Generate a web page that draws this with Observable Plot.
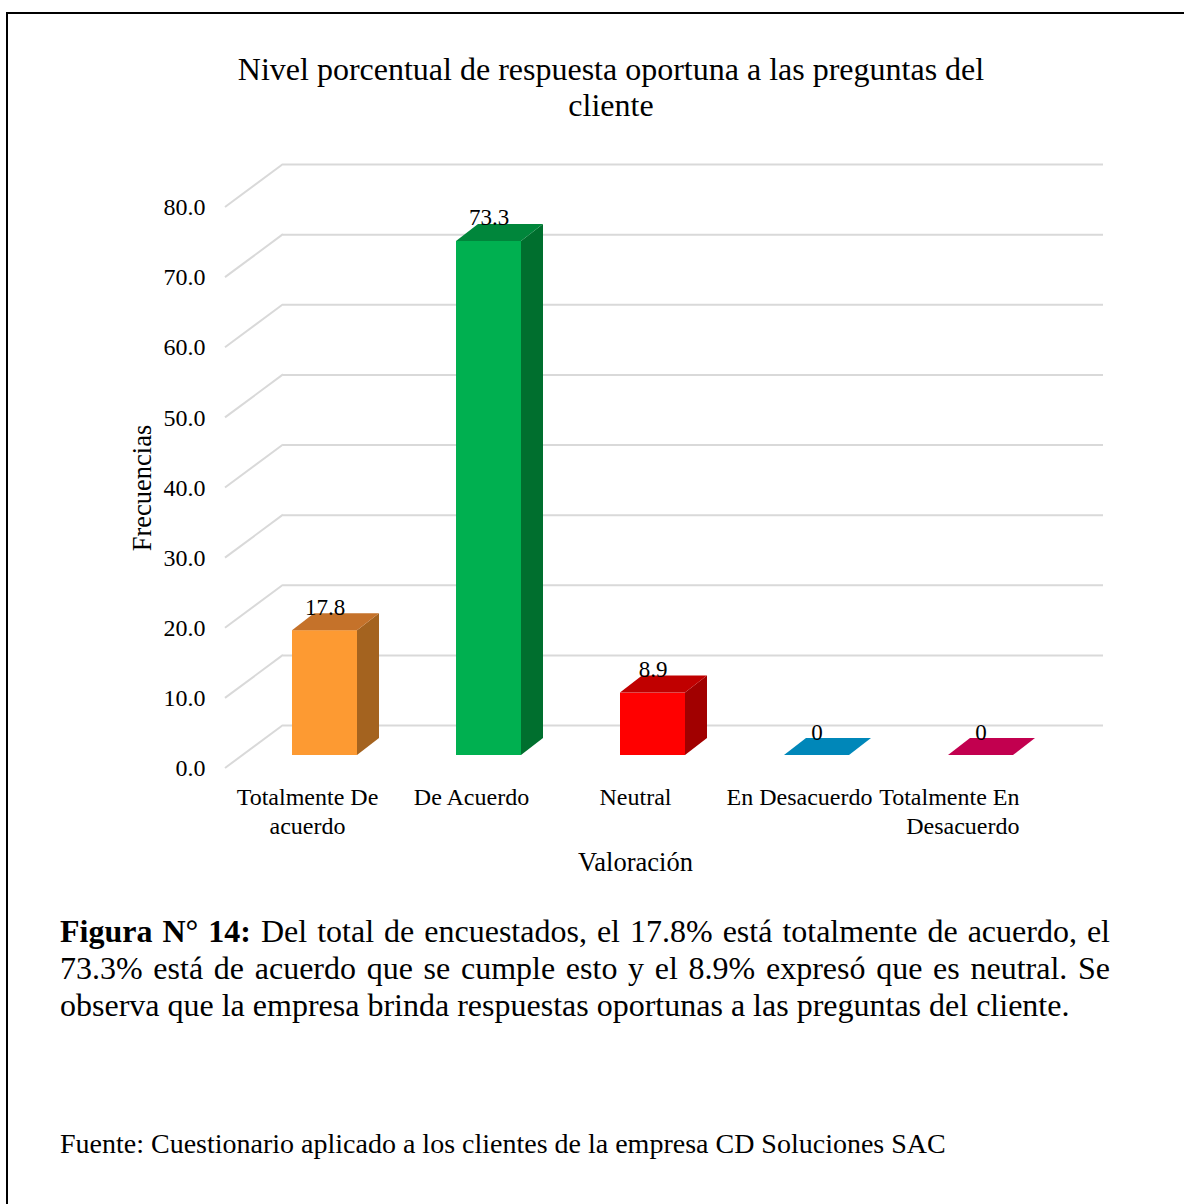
<!DOCTYPE html>
<html><head><meta charset="utf-8">
<script src="https://cdn.jsdelivr.net/npm/d3@7"></script>
<script src="https://cdn.jsdelivr.net/npm/@observablehq/plot@0.6"></script>
<style>
html,body{margin:0;padding:0;background:#fff;width:1184px;height:1204px;overflow:hidden;position:relative;font-family:"Liberation Serif","Times New Roman",serif;color:#000}
#frame{position:absolute;left:6px;top:12px;width:1400px;height:1400px;border-left:2.5px solid #000;border-top:2.5px solid #000;box-sizing:border-box}
#title{position:absolute;left:211px;width:800px;top:51px;text-align:center;font-size:32px;line-height:36px}
#chart{position:absolute;left:0;top:140px}
#caption{position:absolute;left:60px;width:1050px;top:913px;font-size:32px;line-height:37px}
#caption div{text-align:justify;text-align-last:justify;white-space:nowrap}
#caption div.last{text-align-last:left}
#source{position:absolute;left:60px;top:1125px;font-size:28px;line-height:37px;white-space:nowrap}
</style>
</head><body>
<div id="frame"></div>
<div id="title"></div>
<div id="chart"></div>
<div id="caption"></div>
<div id="source"></div>
<script>
// ---- data ----
const categories = ["Totalmente De acuerdo", "De Acuerdo", "Neutral", "En Desacuerdo", "Totalmente En Desacuerdo"];
const tickLabels = ["Totalmente De\nacuerdo", "De Acuerdo", "Neutral", "En Desacuerdo", "Totalmente En\nDesacuerdo"];
const values = [17.8, 73.3, 8.9, 0, 0];
const valueLabels = ["17.8", "73.3", "8.9", "0", "0"];
const yTicks = [0, 10, 20, 30, 40, 50, 60, 70, 80];
const frontColors = ["#FD9A32", "#00B050", "#FF0000", "#0087B9", "#C2004F"];
const sideColors = ["#A4631F", "#006F2E", "#A10000", "#005F80", "#87003A"];
const topColors = ["#C5722A", "#00863B", "#C00000", "#0087B9", "#C2004F"];
const titleLines = ["Nivel porcentual de respuesta oportuna a las preguntas del", "cliente"];
const yTitle = "Frecuencias";
const xTitle = "Valoración";
const captionBold = "Figura N° 14:";
const captionLines = [
  " Del total de encuestados, el 17.8% está totalmente de acuerdo, el",
  "73.3% está de acuerdo que se cumple esto y el 8.9% expresó que es neutral. Se",
  "observa que la empresa brinda respuestas oportunas a las preguntas del cliente."
];
const sourceText = "Fuente: Cuestionario aplicado a los clientes de la empresa CD Soluciones SAC";

// ---- geometry constants (3D look) ----
const WALL = {dx: 58, dy: -43};   // back wall offset
const FRONT = {dx: 17.5, dy: -13}; // bar front face offset
const DEPTH = {dx: 22, dy: -17};   // bar depth
const BAR_W = 65;

const rows = categories.map((c, i) => ({cat: c, value: values[i], label: valueLabels[i], front: frontColors[i], side: sideColors[i], top: topColors[i]}));
const tickLabelOf = new Map(categories.map((c, i) => [c, tickLabels[i]]));

// ---- html texts ----
document.getElementById("title").innerHTML = titleLines.join("<br>");
const cap = document.getElementById("caption");
captionLines.forEach((line, i) => {
  const d = document.createElement("div");
  if (i === captionLines.length - 1) d.className = "last";
  if (i === 0) { const b = document.createElement("b"); b.textContent = captionBold; d.appendChild(b); }
  d.appendChild(document.createTextNode(line));
  cap.appendChild(d);
});
document.getElementById("source").textContent = sourceText;

// ---- custom 3D pieces drawn through Plot's scales ----
function wallDiagonals(index, scales, vals, dims) {
  const {y} = scales;
  const g = d3.create("svg:g").attr("stroke", "#D9D9D9").attr("stroke-width", 2);
  yTicks.forEach(t => {
    g.append("line").attr("x1", dims.marginLeft).attr("y1", y(t))
      .attr("x2", dims.marginLeft + WALL.dx).attr("y2", y(t) + WALL.dy);
  });
  return g.node();
}
function bars3d(index, scales, vals, dims) {
  const {x, y} = scales;
  const bw = typeof x.bandwidth === "function" ? x.bandwidth() : (x(categories[1]) - x(categories[0]));
  const g = d3.create("svg:g");
  const poly = (pts, fill) => g.append("polygon").attr("points", pts.map(p => p.join(",")).join(" ")).attr("fill", fill);
  rows.forEach(r => {
    const cx = x(r.cat) + bw / 2 + FRONT.dx;
    const x0 = cx - BAR_W / 2, x1 = cx + BAR_W / 2;
    const yb = y(0) + FRONT.dy, yt = y(r.value) + FRONT.dy;
    if (yb - yt > 0.5) {
      g.append("rect").attr("x", x0).attr("y", yt).attr("width", BAR_W).attr("height", yb - yt).attr("fill", r.front);
      poly([[x1, yt], [x1 + DEPTH.dx, yt + DEPTH.dy], [x1 + DEPTH.dx, yb + DEPTH.dy], [x1, yb]], r.side);
    }
    poly([[x0, yt], [x1, yt], [x1 + DEPTH.dx, yt + DEPTH.dy], [x0 + DEPTH.dx, yt + DEPTH.dy]], r.top);
  });
  return g.node();
}

const chart = Plot.plot({
  width: 1184,
  height: 750,
  marginLeft: 225,
  marginRight: 139,
  marginTop: 67,
  marginBottom: 122,
  style: {fontFamily: "'Liberation Serif','Times New Roman',serif", fontSize: "24px", color: "#000", background: "transparent", overflow: "visible"},
  x: {type: "band", domain: categories, padding: 0, round: false},
  y: {domain: [0, 80]},
  marks: [
    Plot.ruleY(yTicks, {dx: WALL.dx, dy: WALL.dy, stroke: "#D9D9D9", strokeWidth: 2}),
    wallDiagonals,
    bars3d,
    Plot.text(rows, {x: "cat", y: "value", text: "label", dx: FRONT.dx, dy: -29, lineAnchor: "bottom", fontSize: 23, fill: "#000"}),
    Plot.axisY(yTicks, {tickSize: 0, tickPadding: 20, tickFormat: d3.format(".1f"), fontSize: 24, label: null}),
    Plot.axisX(categories.slice(0, 4), {tickSize: 0, tickPadding: 17, tickFormat: d => tickLabelOf.get(d), fontSize: 24, lineHeight: 1.17, label: null}),
    Plot.axisX(categories.slice(4), {tickSize: 0, tickPadding: 17, tickFormat: d => tickLabelOf.get(d), fontSize: 24, lineHeight: 1.17, textAnchor: "end", dx: 56, label: null}),
    Plot.text([yTitle], {text: d => d, frameAnchor: "left", textAnchor: "middle", rotate: -90, dx: -83, fontSize: 26.5, fill: "#000"}),
    Plot.text([xTitle], {text: d => d, frameAnchor: "bottom", textAnchor: "middle", dy: 102, lineAnchor: "bottom", fontSize: 26.5, fill: "#000"})
  ]
});
document.getElementById("chart").appendChild(chart);
</script>
</body></html>
